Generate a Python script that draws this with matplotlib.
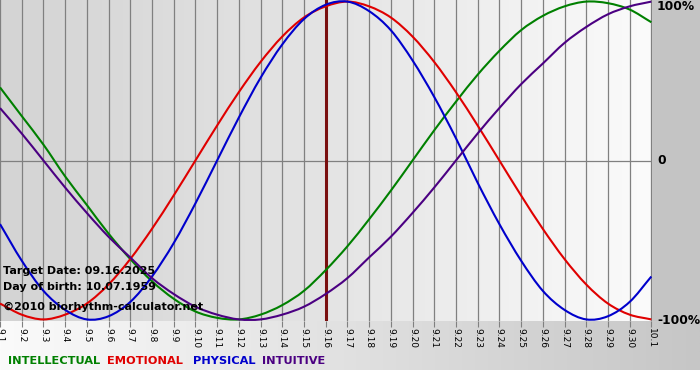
import numpy as np
import matplotlib
matplotlib.use("Agg")
import matplotlib.pyplot as plt
from matplotlib.colors import LinearSegmentedColormap
from matplotlib.path import Path
from matplotlib.patches import PathPatch

# day labels along the x axis
days = ["9.%d" % d for d in range(1, 31)] + ["10.1"]

# biorhythm values in percent, one per day
physical = [-40, -63, -82, -94, -100, -98, -89, -73, -52, -27, 0, 27, 52, 73, 89, 98,
            100, 94, 82, 63, 40, 14, -14, -40, -63, -82, -94, -100, -98, -89, -73]
emotional = [-90, -97, -100, -97, -90, -78, -62, -43, -22, 0, 22, 43, 62, 78, 90, 97,
             100, 97, 90, 78, 62, 43, 22, 0, -22, -43, -62, -78, -90, -97, -100]
intellectual = [46, 28, 10, -10, -28, -46, -62, -76, -87, -95, -99, -100, -97, -91, -82, -69,
                -54, -37, -19, 0, 19, 37, 54, 69, 82, 91, 97, 100, 99, 95, 87]
intuitive = [33, 17, 0, -17, -33, -48, -61, -74, -84, -92, -97, -100, -100, -97, -92, -84,
             -74, -61, -48, -33, -17, 0, 17, 33, 48, 61, 74, 84, 92, 97, 100]

target_idx = 15  # 9.16
series = [("INTELLECTUAL", intellectual, "#008000"),
          ("EMOTIONAL", emotional, "#e00000"),
          ("PHYSICAL", physical, "#0000cc"),
          ("INTUITIVE", intuitive, "#4b0082")]


def smooth_path(xs, ys):
    # Catmull-Rom through the points, drawn as cubic Bezier segments
    pts = np.column_stack([xs, ys]).astype(float)
    ext = np.vstack([2 * pts[0] - pts[1], pts, 2 * pts[-1] - pts[-2]])
    verts = [pts[0]]
    codes = [Path.MOVETO]
    for i in range(1, len(ext) - 2):
        p0, p1, p2, p3 = ext[i - 1], ext[i], ext[i + 1], ext[i + 2]
        verts += [p1 + (p2 - p0) / 6, p2 - (p3 - p1) / 6, p2]
        codes += [Path.CURVE4] * 3
    return Path(verts, codes)


W, H = 700, 380
fig = plt.figure(figsize=(W / 100, H / 100), dpi=100)
fig.patch.set_facecolor("white")

# background layer in pixel coords
bg = fig.add_axes([0, 0, 1, 1], zorder=0)
bg.set_xlim(0, W)
bg.set_ylim(H, 0)
bg.axis("off")
band = LinearSegmentedColormap.from_list("band", ["#fbfbfb", "#c6c6c6"])
bg.imshow(np.linspace(0, 1, 256).reshape(1, -1), cmap=band, aspect="auto",
          extent=[0, W, 370, 321])
bg.add_patch(plt.Rectangle((651, 0), W - 651, 321, color="#c4c4c4", lw=0))

# main plot
ax = fig.add_axes([0, 1 - 321 / H, 652 / W, 321 / H], zorder=1)
ax.set_xlim(0, 30.03)
ax.set_ylim(-101, 101)
plotbg = LinearSegmentedColormap.from_list("plotbg", ["#d4d4d4", "#e4e4e4", "#fbfbfb"])
ax.imshow(np.linspace(0, 1, 256).reshape(1, -1), cmap=plotbg, aspect="auto",
          extent=[0, 30.03, -101, 101], zorder=0)

x = np.arange(len(days))
for xi in x:
    ax.axvline(xi, color="#808080", lw=0.9, zorder=1)
ax.axhline(0, color="#808080", lw=0.9, zorder=1)
ax.axvline(target_idx, color="#7a1010", lw=2.2, zorder=2)

for name, vals, col in series:
    ax.add_patch(PathPatch(smooth_path(x, vals), fill=False, edgecolor=col, lw=1.5,
                           zorder=3))

ax.set_xticks(x)
ax.set_xticklabels(days, rotation=-90, fontsize=6.5)
ax.tick_params(axis="x", length=4, color="#808080", pad=1)
ax.set_yticks([])
for s in ax.spines.values():
    s.set_visible(False)

txt = dict(fontsize=8, fontweight="bold", color="black", zorder=5, va="center")
ax.text(0.004, 0.155, "Target Date: 09.16.2025", transform=ax.transAxes, **txt)
ax.text(0.004, 0.105, "Day of birth: 10.07.1959", transform=ax.transAxes, **txt)
ax.text(0.004, 0.043, "\u00a92010 biorhythm-calculator.net", transform=ax.transAxes, **txt)

# right side labels
for lab, py in [("100%", 7), ("0", 161), ("-100%", 321)]:
    fig.text(657 / W, 1 - py / H, lab, fontsize=8.8, fontweight="bold", va="center", ha="left")

# legend row
lx = [8, 107, 193, 262]
for (name, vals, col), px in zip(series, lx):
    fig.text(px / W, 1 - 361 / H, name, color=col, fontsize=8.2, fontweight="bold",
             va="center", ha="left")

fig.savefig("out.png", dpi=100)
